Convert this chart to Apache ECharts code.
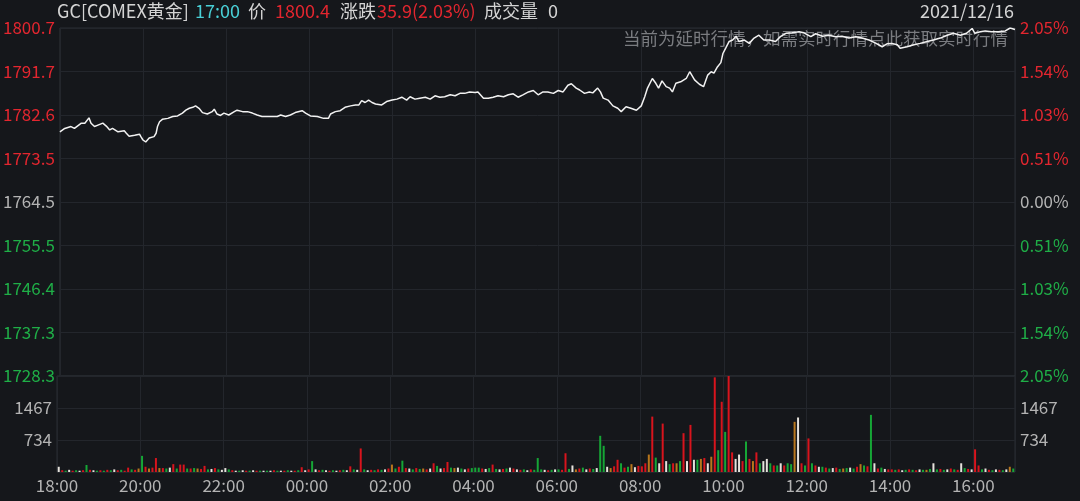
<!DOCTYPE html>
<html><head><meta charset="utf-8">
<script src="https://cdn.jsdelivr.net/npm/echarts@6/dist/echarts.min.js"></script>
<style>html,body{margin:0;padding:0;background:#15171b;}#c{width:1080px;height:501px;}</style>
</head><body><div id="c"></div>
<script>
// minutes since 18:00
const priceTimes=[0,7,16,21,31,36,42,45,50,55,62,67,72,76,84,93,96,100,108,115,117,120,124,129,136,139,141,144,148,156,163,170,177,182,187,192,196,201,206,213,220,223,227,232,237,244,252,256,264,271,278,285,292,304,314,319,326,333,340,350,355,362,372,381,388,391,398,405,412,420,427,432,436,441,446,451,456,465,472,480,487,494,501,506,513,520,528,535,542,549,556,564,571,578,585,592,600,604,612,619,626,633,641,648,655,662,669,677,684,691,698,705,713,720,727,734,739,746,751,758,765,770,777,781,785,792,799,806,811,818,825,833,840,845,849,856,861,865,870,876,881,885,890,897,905,910,917,924,930,936,941,945,950,955,958,962,967,972,977,981,989,996,1003,1010,1017,1025,1034,1041,1049,1058,1068,1075,1085,1092,1102,1111,1121,1130,1140,1150,1159,1169,1178,1188,1195,1202,1210,1214,1224,1234,1243,1253,1262,1272,1282,1291,1301,1310,1318,1322,1330,1337,1346,1356,1366,1373,1380];
const prices=[1779.1,1779.8,1780.2,1779.8,1780.9,1780.9,1782.0,1780.9,1780.2,1780.5,
1780.9,1780.3,1779.5,1779.8,1779.1,1779.3,1778.8,1778.2,1778.4,1778.6,
1778.1,1777.4,1777.0,1777.8,1778.1,1778.8,1780.2,1781.2,1781.7,1781.9,
1782.3,1782.4,1783.0,1783.6,1784.0,1784.2,1784.5,1784.0,1783.1,1782.8,
1783.3,1783.8,1782.8,1782.5,1783.0,1782.6,1783.3,1783.6,1783.3,1783.3,
1783.0,1782.6,1782.3,1782.3,1782.3,1782.6,1782.3,1782.6,1783.1,1783.5,
1783.0,1782.4,1782.3,1781.9,1781.9,1782.8,1783.3,1783.5,1784.2,1784.5,
1784.7,1784.7,1785.6,1785.2,1785.7,1785.2,1784.9,1784.7,1785.4,1785.7,
1785.9,1786.3,1785.7,1786.4,1785.9,1786.1,1786.3,1785.9,1786.6,1786.3,
1786.4,1786.8,1786.6,1787.1,1787.1,1787.4,1787.3,1787.4,1786.1,1786.1,
1786.3,1786.6,1786.4,1786.8,1787.0,1786.3,1786.8,1787.4,1787.7,1786.8,
1787.4,1787.4,1787.1,1787.7,1787.4,1788.8,1789.1,1788.2,1787.8,1787.1,
1787.4,1787.2,1788.2,1787.4,1786.1,1785.7,1784.5,1784.0,1783.3,1784.3,
1784.0,1783.6,1784.5,1786.4,1788.2,1790.2,1789.2,1788.2,1789.7,1788.5,
1788.2,1787.4,1789.2,1789.5,1790.2,1791.6,1789.9,1789.0,1788.5,1790.9,
1791.6,1791.3,1792.6,1793.5,1795.4,1796.5,1797.9,1798.2,1799.0,1797.9,
1798.2,1797.5,1798.6,1799.2,1798.2,1798.2,1797.9,1798.9,1799.6,1799.7,
1799.9,1799.7,1798.9,1799.5,1799.0,1799.2,1798.9,1799.0,1798.6,1798.9,
1798.6,1798.2,1797.6,1796.8,1797.4,1797.5,1797.2,1796.5,1796.8,1797.2,
1797.5,1797.9,1798.2,1798.6,1799.2,1799.6,1799.2,1799.6,1800.6,1799.6,
1799.9,1800.1,1799.9,1799.9,1800.1,1800.7,1800.4];

// volume per 5-minute slot (one row per hour, from 18:00)
const volStep=5;
const volumes=[
120,40,30,50,30,40,30,40,160,50,40,30,
40,30,50,40,60,40,50,30,100,60,50,80,
370,120,80,100,320,90,90,80,100,180,80,170,
170,80,80,90,80,70,140,60,70,90,60,50,
90,60,40,30,30,40,30,30,40,30,30,30,
30,30,40,30,30,30,40,30,30,40,110,40,
60,250,60,40,50,40,30,40,30,40,50,40,
130,60,50,540,60,40,50,40,60,50,60,80,
170,80,120,260,90,80,60,90,70,80,60,80,
200,140,80,90,230,100,90,100,80,60,80,90,
100,100,80,70,90,170,70,60,70,80,100,80,
60,50,60,40,60,50,320,60,50,40,50,60,
60,50,430,70,150,60,80,100,60,80,70,90,
830,600,120,90,130,280,200,100,120,180,110,140,
130,200,400,1270,330,200,1110,250,180,200,200,250,
890,250,1080,280,280,300,320,200,350,2170,500,1610,
920,2200,450,300,400,250,700,300,250,450,200,250,
300,200,150,150,200,150,200,180,1150,1250,200,150,
770,200,150,120,120,100,80,90,100,70,80,90,
100,80,120,180,150,130,1310,200,80,100,70,60,
60,50,60,40,50,60,50,40,60,50,50,70,
200,60,70,50,60,80,60,50,200,90,70,60,
520,150,60,80,50,40,60,50,40,60,120,80];
const volColors=
"wrgwrgwrgrwg"+"rgrgwrgrrgro"+"grorrorgwrgr"+"rgrgorrgwrgw"+"wgrwgwrgwrgw"+
"gwrgwrgwrgrw"+"rgwrgwrgwrgw"+"rgwrgwrgrgwr"+"ogrgrwgrgorw"+"rgwrrgowgwrg"+
"ggrwgrgwrgwr"+"wrgwrgggwrgw"+"grrgworgwrgw"+"ggworrgrgowr"+"rrorgwrwgrog"+
"rwrwgorworgr"+"grrwwrgrorgw"+"wgrgwrggowrg"+"rgrwgrgwrgog"+"wgrogrgwrgwr"+
"rgrwgrgrwgog"+"wgrgwrgrwgrw"+"rrgwrgwrgwog";

const priceMin=1728.3, priceMax=1800.7, volMax=2201;
const priceTicks=['1728.3','1737.3','1746.4','1755.5','1764.5','1773.5','1782.6','1791.7','1800.7'];
const pctTicks=['2.05%','1.54%','1.03%','0.51%','0.00%','0.51%','1.03%','1.54%','2.05%'];
const volTicks=['','734','1467',''];
const timeTicks=['18:00','20:00','22:00','00:00','02:00','04:00','06:00','08:00','10:00','12:00','14:00','16:00'];

const RED='#e3262f', GREEN='#1fae47', GRAY='#b3b3b3';
const barColor={r:'#d8141d',g:'#16a636',w:'#e6e2dc',o:'#b8761c'};
const GRIDC='#23262c';
const FONT='"Noto Sans CJK SC","Noto Sans",sans-serif';

const lineData=priceTimes.map((t,i)=>[t,prices[i]]);
const barData=volumes.map((v,i)=>({value:[i*volStep+volStep/2,v],itemStyle:{color:barColor[volColors[i]]}}));

const chart=echarts.init(document.getElementById('c'));
const baseX={type:'value',min:0,max:1380,interval:120,axisLine:{show:false},axisTick:{show:false},
  splitLine:{show:true,lineStyle:{color:GRIDC,width:1}}};
const labelColor=(v)=>{v=Number(v);return v>4?RED:(v<4?GREEN:GRAY);};
const HF='18px '+FONT;
chart.setOption({
  backgroundColor:'#15171b',
  animation:false,
  textStyle:{fontFamily:FONT},
  grid:[
    {left:57,right:65,top:28,height:348,show:true,borderColor:'#2b2e34',borderWidth:1},
    {left:57,right:65,top:376,height:96,show:true,borderColor:'#2b2e34',borderWidth:1}
  ],
  xAxis:[
    Object.assign({},baseX,{gridIndex:0,axisLabel:{show:false}}),
    Object.assign({},baseX,{gridIndex:1,axisLabel:{show:true,color:GRAY,fontSize:17,fontFamily:FONT,margin:5,
      showMaxLabel:false,formatter:(v)=>timeTicks[Math.round(v/120)]||''}})
  ],
  yAxis:[
    {gridIndex:0,type:'value',min:0,max:8,interval:1,position:'left',axisLine:{show:false},axisTick:{show:false},
     splitLine:{show:true,lineStyle:{color:GRIDC}},
     axisLabel:{margin:5,fontSize:17,fontFamily:FONT,color:labelColor,formatter:(v)=>priceTicks[Math.round(v)]}},
    {gridIndex:0,type:'value',min:0,max:8,interval:1,position:'right',axisLine:{show:false},axisTick:{show:false},
     splitLine:{show:false},
     axisLabel:{margin:5,fontSize:17,fontFamily:FONT,color:labelColor,formatter:(v)=>pctTicks[Math.round(v)]}},
    {gridIndex:0,type:'value',min:priceMin,max:priceMax,show:false,splitLine:{show:false}},
    {gridIndex:1,type:'value',min:0,max:3,interval:1,position:'left',axisLine:{show:false},axisTick:{show:false},
     splitLine:{show:true,lineStyle:{color:GRIDC}},
     axisLabel:{margin:5,fontSize:17,fontFamily:FONT,color:GRAY,formatter:(v)=>volTicks[Math.round(v)]}},
    {gridIndex:1,type:'value',min:0,max:3,interval:1,position:'right',axisLine:{show:false},axisTick:{show:false},
     splitLine:{show:false},
     axisLabel:{margin:5,fontSize:17,fontFamily:FONT,color:GRAY,formatter:(v)=>volTicks[Math.round(v)]}},
    {gridIndex:1,type:'value',min:0,max:volMax,show:false,splitLine:{show:false}}
  ],
  graphic:[
    {type:'text',left:57,top:2,z:10,style:{text:'GC[COMEX黄金]',fill:'#d4d4d4',font:HF}},
    {type:'text',left:195,top:2,z:10,style:{text:'17:00',fill:'#49cfd6',font:HF}},
    {type:'text',left:248,top:2,z:10,style:{text:'价',fill:'#d4d4d4',font:HF}},
    {type:'text',left:275,top:2,z:10,style:{text:'1800.4',fill:RED,font:HF}},
    {type:'text',left:340,top:2,z:10,style:{text:'涨跌',fill:'#d4d4d4',font:HF}},
    {type:'text',left:377,top:2,z:10,style:{text:'35.9(2.03%)',fill:RED,font:HF}},
    {type:'text',left:484,top:2,z:10,style:{text:'成交量',fill:'#d4d4d4',font:HF}},
    {type:'text',left:548,top:2,z:10,style:{text:'0',fill:'#d4d4d4',font:HF}},
    {type:'text',right:66,top:2,z:10,style:{text:'2021/12/16',fill:'#d4d4d4',font:HF}},
    {type:'text',right:72,top:30,z:1,style:{text:'当前为延时行情，如需实时行情点此获取实时行情',fill:'#7a7c80',font:'17.5px '+FONT}}
  ],
  series:[
    {type:'line',xAxisIndex:0,yAxisIndex:2,data:lineData,symbol:'none',z:5,
     lineStyle:{color:'#f2f2f2',width:1.5}},
    {type:'bar',xAxisIndex:1,yAxisIndex:5,data:barData,barWidth:2,z:4}
  ]
});
</script></body></html>
